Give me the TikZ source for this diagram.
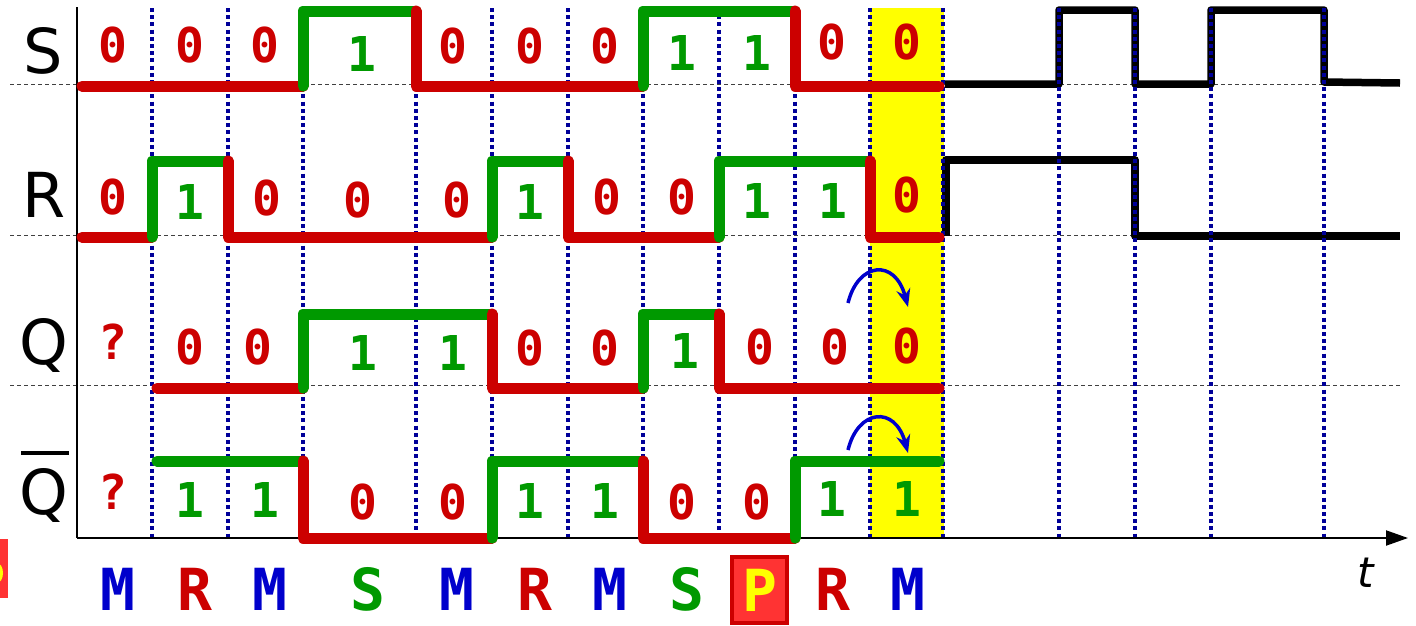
\documentclass[tikz,border=0pt]{standalone}
\usepackage{fontspec}
\usetikzlibrary{arrows.meta}
\newfontfamily\digitfont{DejaVu Sans Mono}
\newfontfamily\labfont{DejaVu Sans}
\definecolor{sred}{HTML}{CC0000}
\definecolor{sgreen}{HTML}{009900}
\definecolor{dotblue}{HTML}{000099}
\definecolor{evblue}{HTML}{0000CC}
\definecolor{pfill}{HTML}{FF3333}
\definecolor{hly}{HTML}{FFFF00}
\tikzset{
  x=1pt, y=-1pt,
  sig/.style={line width=11pt, line join=round, line cap=round},
  lo/.style={sig, draw=sred},
  hi/.style={sig, draw=sgreen},
  blk/.style={line width=7.5pt, line join=round, draw=black},
  gridline/.style={draw=dotblue, line width=3.5pt, dash pattern=on 4pt off 3.2pt},
  baseline/.style={draw=black!75, line width=1pt, dash pattern=on 4pt off 3pt},
  axisline/.style={draw=black, line width=2pt},
  val/.style={inner sep=0pt, font=\digitfont\bfseries\fontsize{48}{48}\selectfont},
  vz/.style={val, text=sred},
  vo/.style={val, text=sgreen},
  ev/.style={inner sep=0pt, font=\digitfont\bfseries\fontsize{58}{58}\selectfont},
  evm/.style={ev, text=evblue},
  evr/.style={ev, text=sred},
  evs/.style={ev, text=sgreen},
  signame/.style={inner sep=0pt, anchor=base, font=\labfont\fontsize{62}{62}\selectfont},
  carry/.style={draw=evblue, line width=3.5pt, -{Stealth[length=18pt,width=14pt]}},
}
\begin{document}
\begin{tikzpicture}
\useasboundingbox (0,0) rectangle (1416,625);
% highlight column
\fill[hly] (870,8) rectangle (944,538);
% baselines
\draw[baseline] (10,84) -- (1400,84);
\draw[baseline] (10,235) -- (1400,235);
\draw[baseline] (10,385) -- (1400,385);
% black continuation waveforms
\draw[blk] (945,84) -- (1059,84) -- (1059,10) -- (1135,10) -- (1135,84) -- (1211,84) -- (1211,10) -- (1324,10) -- (1324,82) -- (1400,83);
\draw[blk] (946,236) -- (946,160) -- (1135,160) -- (1135,236) -- (1400,236);
% clock grid
\foreach \x in {152,228,303,416,492,568,643,719,795,870,943,1059,1135,1211,1324}
  \draw[gridline] (\x,8) -- (\x,538);
% axes
\draw[axisline] (77,7) -- (77,538);
\coordinate (origin) at (77,538);
\coordinate (tend) at (1408,538);
\draw[axisline, -{Triangle[length=22pt,width=15pt]}] (origin) -- (tend);
\node[inner sep=0pt, font=\labfont\itshape\fontsize{42}{42}\selectfont] (tlab) at (1366,573) {t};
% S
\draw[lo] (82,86) -- (303,86);
\draw[hi] (303,86) -- (303,11) -- (416,11);
\draw[lo] (416,11) -- (416,86) -- (643,86);
\draw[hi] (643,86) -- (643,11) -- (795,11);
\draw[lo] (795,11) -- (795,86) -- (939,86);
% R
\draw[lo] (82,237) -- (152,237);
\draw[hi] (152,237) -- (152,161) -- (228,161);
\draw[lo] (228,161) -- (228,237) -- (492,237);
\draw[hi] (492,237) -- (492,161) -- (568,161);
\draw[lo] (568,161) -- (568,237) -- (719,237);
\draw[hi] (719,237) -- (719,161) -- (870,161);
\draw[lo] (870,161) -- (870,237) -- (939,237);
% Q
\draw[lo] (157,388) -- (303,388);
\draw[hi] (303,388) -- (303,314) -- (492,314);
\draw[lo] (492,314) -- (492,388) -- (643,388);
\draw[hi] (643,388) -- (643,314) -- (719,314);
\draw[lo] (719,314) -- (719,388) -- (939,388);
% Qbar
\draw[hi] (157,461) -- (303,461);
\draw[lo] (303,461) -- (303,538) -- (492,538);
\draw[hi] (492,538) -- (492,461) -- (643,461);
\draw[lo] (643,461) -- (643,538) -- (795,538);
\draw[hi] (795,538) -- (795,461) -- (939,461);
% signal names
\node[signame] (nS) at (43.5,73) {S};
\node[signame] (nR) at (44,217) {R};
\node[signame] (nQ) at (43.5,364) {Q};
\node[signame] (nQb) at (43.5,514) {Q};
\draw[line width=4pt] (21,453) -- (69,453);
% values
\foreach \x/\y/\v/\c [count=\i] in {113/45/0/vz,190/45/0/vz,265/45/0/vz,362/54/1/vo,453/46/0/vz,530/46/0/vz,605/46/0/vz,682/53/1/vo,757/53/1/vo,832/42/0/vz,907/42/0/vz}
  \node[\c] (s\i) at (\x,\y) {\v};
\foreach \x/\y/\v/\c [count=\i] in {113/197/0/vz,190/202/1/vo,267/198/0/vz,358/200/0/vz,457/200/0/vz,530/202/1/vo,607/197/0/vz,682/197/0/vz,757/201/1/vo,833/201/1/vo,907/195/0/vz}
  \node[\c] (r\i) at (\x,\y) {\v};
\foreach \x/\y/\v/\c [count=\i] in {113/342/?/vz,190/347/0/vz,258/347/0/vz,363/353/1/vo,453/353/1/vo,530/348/0/vz,605/348/0/vz,685/351/1/vo,760/347/0/vz,835/347/0/vz,907/346/0/vz}
  \node[\c] (q\i) at (\x,\y) {\v};
\foreach \x/\y/\v/\c [count=\i] in {113/492/?/vz,190/500/1/vo,265/500/1/vo,363/502/0/vz,453/502/0/vz,530/501/1/vo,605/501/1/vo,682/502/0/vz,757/502/0/vz,832/499/1/vo,907/499/1/vo}
  \node[\c] (b\i) at (\x,\y) {\v};
% carry arrows
\coordinate (qa0) at (848,303);
\coordinate (qa1) at (908,307);
\draw[carry] (qa0) .. controls (858,262) and (895,258) .. (qa1);
\coordinate (ba0) at (848,450);
\coordinate (ba1) at (908,453);
\draw[carry] (ba0) .. controls (858,409) and (895,405) .. (ba1);
% events
\foreach \x/\t/\c [count=\i] in {118/M/evm,195/R/evr,270/M/evm,368/S/evs,457/M/evm,535/R/evr,610/M/evm,687/S/evs}
  \node[\c] (e\i) at (\x,589) {\t};
\node[ev, text=hly, fill=pfill, draw=sred, line width=4pt, minimum width=55pt, minimum height=66pt] (e9) at (759.5,590) {P};
\node[evr] (e10) at (833,589) {R};
\node[evm] (e11) at (908,589) {M};
% cut-off box at left edge
\fill[pfill] (0,539) rectangle (8,598);
\begin{scope}
  \clip (0,539) rectangle (8,598);
  \fill[hly] (-3,573) ellipse (6 and 10);
\end{scope}
\end{tikzpicture}
\end{document}
